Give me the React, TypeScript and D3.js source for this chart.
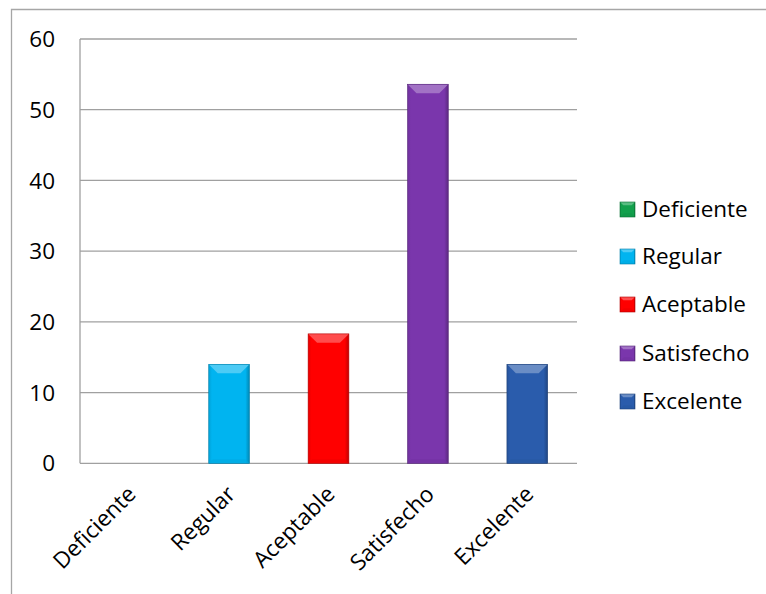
import React from "react";
import * as d3 from "d3";

const categories = ["Deficiente", "Regular", "Aceptable", "Satisfecho", "Excelente"];
const values = [0, 14, 18.3, 53.6, 14];
const colors = ["#12a04c", "#00b4f0", "#ff0000", "#7a36ac", "#2a5cac"];
const yTicks = [0, 10, 20, 30, 40, 50, 60];

const W = 766, H = 594;
const plot = { left: 80, right: 577, top: 39, bottom: 463.3 };
const FONT = "'Open Sans', 'Noto Sans', sans-serif";
const FS = 22.5;

function Bevel({ x, y, w, h, color, id }: any) {
  const c = d3.color(color)!;
  const light = d3.interpolateRgb(color, "#ffffff")(0.3);
  const dark = c.darker(0.8).toString();
  const b = Math.min(w * 0.22, 9, h / 2);
  const bb = Math.min(4, h / 4);
  return (
    <g>
      <defs>
        <linearGradient id={id} x1="0" x2="1" y1="0" y2="0">
          <stop offset="0" stopColor={c.darker(0.3).toString()} />
          <stop offset="0.08" stopColor={color} />
          <stop offset="0.9" stopColor={color} />
          <stop offset="1" stopColor={dark} />
        </linearGradient>
      </defs>
      <rect x={x} y={y} width={w} height={h} fill={`url(#${id})`} />
      <polygon points={`${x},${y} ${x + w},${y} ${x + w - b},${y + b} ${x + b},${y + b}`} fill={light} />
      <polygon points={`${x},${y + h} ${x + w},${y + h} ${x + w - bb},${y + h - bb} ${x + bb},${y + h - bb}`} fill={c.darker(0.2).toString()} opacity={0.6} />
      <rect x={x} y={y} width={w} height={h} fill="none" stroke={c.darker(1).toString()} strokeWidth={0.6} />
    </g>
  );
}

export default function App() {
  const x = d3.scaleBand<string>().domain(categories).range([plot.left, plot.right]).paddingInner(0.59).paddingOuter(0.295);
  const y = d3.scaleLinear().domain([0, 60]).range([plot.bottom, plot.top]);
  const legendY = [209, 256, 304, 353, 401];
  return (
    <svg width={W} height={H} style={{ position: "absolute", left: 0, top: 0 }} fontFamily={FONT}>
      <rect x={0} y={0} width={W} height={H} fill="#fff" />
      <path d={`M11.5,${H} V9.5 H${W}`} fill="none" stroke="#a6a6a6" strokeWidth={1.3} />
      {yTicks.map((t) => (
        <g key={t}>
          <line x1={plot.left} x2={plot.right} y1={y(t)} y2={y(t)} stroke="#a0a0a0" strokeWidth={1.3} />
          <text x={55} y={y(t)} dy="0.36em" textAnchor="end" fontSize={FS} fill="#000">{t}</text>
        </g>
      ))}
      <line x1={plot.left} x2={plot.left} y1={plot.top} y2={plot.bottom} stroke="#a0a0a0" strokeWidth={1.3} />
      {categories.map((c, i) =>
        values[i] > 0 ? (
          <Bevel key={c} id={`g${i}`} x={x(c)!} y={y(values[i])} w={x.bandwidth()} h={y(0) - y(values[i])} color={colors[i]} />
        ) : null
      )}
      {categories.map((c) => {
        const cx = x(c)! + x.bandwidth() / 2 + 2;
        const cy = 490;
        return (
          <text key={c} transform={`translate(${cx},${cy}) rotate(-45)`} textAnchor="end" fontSize={FS} fill="#000" dy="0.35em">{c}</text>
        );
      })}
      {categories.map((c, i) => (
        <g key={c}>
          <Bevel id={`l${i}`} x={620} y={legendY[i] - 7} w={15} h={15} color={colors[i]} />
          <text x={642} y={legendY[i]} dy="0.36em" fontSize={FS} fill="#000">{c}</text>
        </g>
      ))}
    </svg>
  );
}
